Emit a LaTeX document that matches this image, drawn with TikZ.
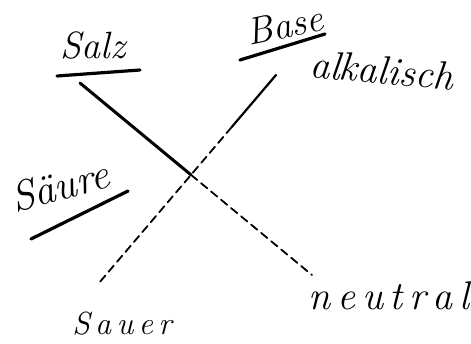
\documentclass[tikz,border=0pt]{standalone}
\usepackage{fontspec}
\usepackage{tikz}
\usetikzlibrary{calc}
\begin{document}
\begin{tikzpicture}[
  x=0.5pt, y=-0.5pt,
  word/.style={font=\fontsize{19}{21}\selectfont\itshape, inner sep=1pt},
  uline/.style={line width=1.6pt, line cap=round},
  hand/.style={line width=1.5pt, line cap=round},
  trail/.style={line width=0.9pt, line cap=round, dash pattern=on 4pt off 2.5pt}
]
\useasboundingbox (0,0) rectangle (471,343);
% labels
\node[word] (salz) at (93,46) {Salz};
\node[word, rotate=12] (base) at (285,25) {Base};
\node[word, rotate=-5, font=\fontsize{20}{22}\selectfont\itshape] (alkalisch) at (382,70) {alkalisch};
\node[word, rotate=15, font=\fontsize{21}{23}\selectfont\itshape] (saeure) at (60,186) {Säure};
\node[word, font=\fontsize{20}{22}\selectfont\itshape] (neutral) at (389,296) {n\,e\,u\,t\,r\,a\,l};
\node[word, font=\fontsize{16}{18}\selectfont\itshape] (sauer) at (122,324) {S\,a\,u\,e\,r};
% underlines
\coordinate (salzU1) at (57,76);
\coordinate (salzU2) at (140,70);
\coordinate (baseU1) at (240,60);
\coordinate (baseU2) at (325,34);
\coordinate (saeureU1) at (31,239);
\coordinate (saeureU2) at (128,191);
\draw[uline] (salzU1) -- (salzU2);
\draw[uline] (baseU1) -- (baseU2);
\draw[uline] (saeureU1) -- (saeureU2);
% the cross
\coordinate (salzEnd) at (80,83);
\coordinate (neutralEnd) at (312,275);
\coordinate (baseEnd) at (276,75);
\coordinate (sauerEnd) at (99,283);
\coordinate (cross) at (intersection of salzEnd--neutralEnd and baseEnd--sauerEnd);
\draw[hand] (salzEnd) -- (cross);
\draw[trail] (cross) -- (neutralEnd);
\draw[hand, line width=1.1pt] (baseEnd) -- ($(baseEnd)!0.25!(sauerEnd)$);
\draw[trail] ($(baseEnd)!0.25!(sauerEnd)$) -- (sauerEnd);
\end{tikzpicture}
\end{document}
